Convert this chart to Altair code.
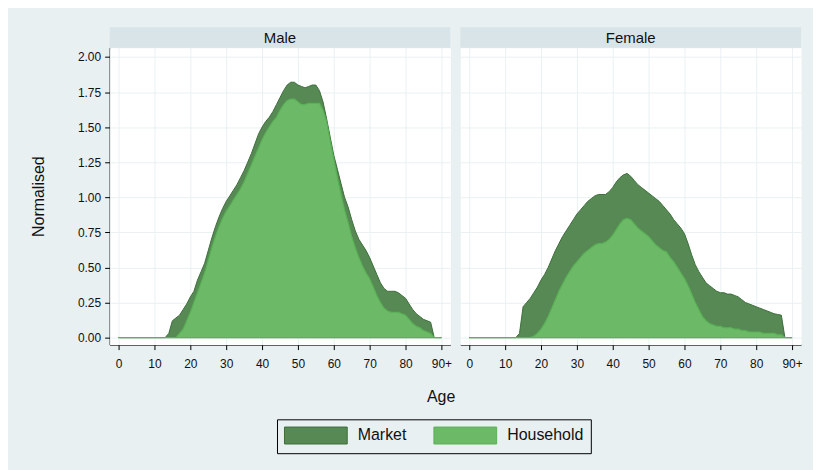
import altair as alt
import pandas as pd

ages = list(range(0, 91))
panels = ["Male", "Female"]
series_names = ["Market", "Household"]

male_market = [
    0, 0, 0, 0, 0, 0, 0, 0, 0, 0,
    0, 0, 0, 0, 0.03, 0.12, 0.14, 0.16, 0.20, 0.24,
    0.29, 0.33, 0.41, 0.47, 0.53, 0.62, 0.71, 0.79, 0.86, 0.92,
    0.97, 1.01, 1.05, 1.09, 1.14, 1.19, 1.25, 1.31, 1.38, 1.45,
    1.50, 1.54, 1.57, 1.61, 1.66, 1.71, 1.76, 1.80, 1.82, 1.82,
    1.80, 1.79, 1.78, 1.79, 1.80, 1.80, 1.76, 1.68, 1.56, 1.43,
    1.30, 1.20, 1.10, 1.00, 0.93, 0.84, 0.76, 0.70, 0.66, 0.62,
    0.57, 0.51, 0.45, 0.39, 0.35, 0.33, 0.33, 0.33, 0.32, 0.30,
    0.28, 0.24, 0.20, 0.17, 0.15, 0.13, 0.12, 0.11, 0, 0,
    0,
]
male_household = [
    0, 0, 0, 0, 0, 0, 0, 0, 0, 0,
    0, 0, 0, 0, 0, 0, 0, 0.03, 0.06, 0.12,
    0.18, 0.25, 0.32, 0.39, 0.46, 0.55, 0.64, 0.72, 0.79, 0.85,
    0.90, 0.94, 0.98, 1.02, 1.06, 1.11, 1.17, 1.23, 1.29, 1.35,
    1.41, 1.46, 1.50, 1.54, 1.57, 1.62, 1.66, 1.69, 1.70, 1.70,
    1.68, 1.66, 1.66, 1.67, 1.67, 1.67, 1.67, 1.62, 1.54, 1.40,
    1.27, 1.14, 1.02, 0.91, 0.82, 0.72, 0.64, 0.57, 0.51, 0.46,
    0.42, 0.36, 0.30, 0.25, 0.21, 0.19, 0.18, 0.18, 0.18, 0.17,
    0.16, 0.13, 0.10, 0.08, 0.07, 0.05, 0.04, 0.03, 0, 0,
    0,
]
female_market = [
    0, 0, 0, 0, 0, 0, 0, 0, 0, 0,
    0, 0, 0, 0, 0.03, 0.22, 0.25, 0.28, 0.32, 0.36,
    0.41, 0.45, 0.50, 0.56, 0.62, 0.67, 0.72, 0.76, 0.80, 0.84,
    0.88, 0.91, 0.94, 0.97, 0.99, 1.01, 1.02, 1.02, 1.02, 1.04,
    1.07, 1.11, 1.14, 1.16, 1.17, 1.15, 1.12, 1.09, 1.07, 1.05,
    1.03, 1.01, 0.99, 0.97, 0.94, 0.91, 0.88, 0.84, 0.81, 0.78,
    0.74, 0.67, 0.59, 0.52, 0.47, 0.43, 0.39, 0.37, 0.35, 0.33,
    0.32, 0.32, 0.31, 0.31, 0.30, 0.29, 0.27, 0.25, 0.24, 0.23,
    0.22, 0.21, 0.20, 0.19, 0.18, 0.17, 0.165, 0.16, 0, 0,
    0,
]
female_household = [
    0, 0, 0, 0, 0, 0, 0, 0, 0, 0,
    0, 0, 0, 0, 0, 0, 0, 0, 0.01, 0.03,
    0.06, 0.10, 0.15, 0.21, 0.27, 0.33, 0.38, 0.43, 0.47, 0.51,
    0.54, 0.57, 0.60, 0.62, 0.64, 0.66, 0.67, 0.67, 0.68, 0.70,
    0.73, 0.77, 0.81, 0.84, 0.85, 0.84, 0.81, 0.78, 0.76, 0.74,
    0.72, 0.69, 0.66, 0.64, 0.62, 0.61, 0.57, 0.54, 0.50, 0.46,
    0.42, 0.37, 0.31, 0.25, 0.20, 0.15, 0.12, 0.10, 0.09, 0.08,
    0.08, 0.07, 0.07, 0.07, 0.06, 0.06, 0.05, 0.05, 0.04, 0.04,
    0.04, 0.04, 0.03, 0.03, 0.03, 0.03, 0.02, 0.02, 0, 0,
    0,
]

x_ticks = [0, 10, 20, 30, 40, 50, 60, 70, 80, 90]
y_ticks = [0, 0.25, 0.5, 0.75, 1.0, 1.25, 1.5, 1.75, 2.0]

rows = []
for sex, mk, hh in [("Male", male_market, male_household),
                    ("Female", female_market, female_household)]:
    for a, m, h in zip(ages, mk, hh):
        rows.append({"sex": sex, "series": "Market", "age": a, "value": m})
        rows.append({"sex": sex, "series": "Household", "age": a, "value": h})
df = pd.DataFrame(rows)

FONT = "Liberation Sans"
BG = "#e8f0f2"
HEADER = "#d9e4e9"
GRID = "#e9f1f3"
DARK = "#568953"
DARK_LINE = "#3d6e3a"
LIGHT = "#6cb967"
LIGHT_LINE = "#5ab256"
TXT = "#111111"

W, H = 342, 298

x_enc = alt.X(
    "age:Q",
    scale=alt.Scale(domain=[-2.5, 92.5], nice=False, zero=False),
    axis=alt.Axis(values=x_ticks, title=None, labelPadding=9,
                  labelExpr="datum.value == 90 ? '90+' : datum.label"),
)
y_enc = alt.Y(
    "value:Q",
    stack=None,
    scale=alt.Scale(domain=[-0.05, 2.066], nice=False, zero=False),
    axis=alt.Axis(values=y_ticks, format=".2f", title="Normalised",
                  titlePadding=31),
)
legend = alt.Legend(
    title=None, orient="none", legendX=168, legendY=373,
    direction="horizontal", strokeColor="black", fillColor=BG,
    padding=7, symbolType="M-1,-1L6.41,-1L6.41,1L-1,1Z",
    symbolSize=289, symbolStrokeWidth=1, labelFontSize=16,
    labelFont=FONT, labelColor=TXT, labelOffset=56, columnPadding=25,
    symbolOpacity=1,
)
color_enc = alt.Color("series:N", scale=alt.Scale(domain=series_names, range=[DARK, LIGHT]),
                      legend=legend)
stroke_enc = alt.Stroke("series:N", scale=alt.Scale(domain=series_names, range=[DARK_LINE, LIGHT_LINE]),
                        legend=legend)

base = alt.Chart().encode(x=x_enc, y=y_enc, fill=color_enc, stroke=stroke_enc)
market = base.transform_filter("datum.series == 'Market'").mark_area(strokeWidth=1, opacity=1)
household = base.transform_filter("datum.series == 'Household'").mark_area(strokeWidth=1.2, opacity=1)

one_row = "datum.series == 'Market' && datum.age == 0"
header_rect = alt.Chart().transform_filter(one_row).mark_rect(fill=HEADER).encode(
    x=alt.value(0), x2=alt.value(W), y=alt.value(-20.5), y2=alt.value(0)
)
header_text = alt.Chart().transform_filter(one_row).mark_text(
    font=FONT, fontSize=15, color=TXT, baseline="middle"
).encode(x=alt.value(W / 2), y=alt.value(-10), text="sex:N")

layered = alt.layer(market, household, header_rect, header_text, data=df).properties(
    width=W, height=H
)

chart = layered.facet(
    column=alt.Column(
        "sex:N", sort=panels,
        header=alt.Header(labels=False, title="Age", titleOrient="bottom",
                          titleAlign="right", titleFont=FONT, titleFontSize=16,
                          titleFontWeight="normal", titleColor=TXT, titlePadding=10),
    ),
    spacing=10,
).configure(
    background=BG,
    padding={"left": 22, "top": 18, "right": 10, "bottom": 15},
    font=FONT,
).configure_view(
    fill="white", strokeOpacity=0
).configure_axis(
    domainColor="black", domainWidth=1, tickColor="black", tickSize=5, tickWidth=1,
    gridColor=GRID, gridWidth=1, labelFont=FONT, labelFontSize=12, labelColor=TXT,
    labelPadding=4, titleFont=FONT, titleFontSize=16, titleFontWeight="normal",
    titleColor=TXT,
)

chart.save("out.html", embed_options={"renderer": "svg", "actions": False})
